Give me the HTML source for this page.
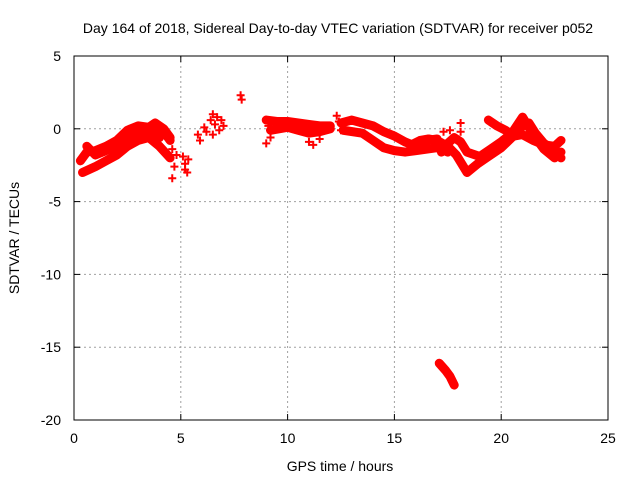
<!DOCTYPE html>
<html><head><meta charset="utf-8"><style>
body{margin:0;background:#fff}
svg text{font-family:"Liberation Sans",sans-serif;font-size:14px;fill:#000}
</style></head><body>
<svg id="c" width="640" height="480">
<text x="338" y="33" text-anchor="middle">Day 164 of 2018, Sidereal Day-to-day VTEC variation (SDTVAR) for receiver p052</text>
<text x="340" y="471" text-anchor="middle">GPS time / hours</text>
<text transform="translate(19,238) rotate(-90)" text-anchor="middle">SDTVAR / TECUs</text>
<g id="grid"></g><g id="ticks"></g><g id="marks"></g>
<rect x="74" y="56" width="534" height="364" fill="none" stroke="#000" stroke-width="1"/>
</svg>
<script>
const xTicks=[0,5,10,15,20,25];
const yTicks=[5,0,-5,-10,-15,-20];
const trackA=[[0.3,-2.2],[0.6,-1.6],[1,-1.5],[1.5,-1.2],[2,-0.8],[2.5,-0.1],[3,0.2],[3.5,0.1],[3.8,0.4],[4.2,0],[4.5,-0.6]];
const trackB=[[0.4,-3],[1,-2.6],[1.5,-2.2],[2,-1.8],[2.5,-1.2],[3,-0.8],[3.5,-0.6],[4,-1.2],[4.5,-2]];
const trackC=[[0.6,-1.2],[1,-1.8],[1.5,-1.5],[2,-1.2],[2.5,-0.6],[3,-0.3],[3.5,-0.4],[4,-0.6]];
const trackC2=[[3,0.1],[3.5,-0.1],[4.2,-0.2],[4.5,-0.8]];
const trackD=[[9,0.6],[9.5,0.5],[10,0.5],[10.5,0.4],[11,0.3],[11.5,0.2],[12,0.2]];
const trackE=[[9.2,-0.1],[10,0.1],[10.5,-0.1],[11,-0.3],[11.5,-0.2],[12,0]];
const trackF=[[12.5,0.4],[13,0.6],[13.5,0.4],[14,0.2],[14.5,-0.2],[15,-0.5],[15.5,-0.9],[16,-1.2],[16.5,-0.8],[17,-0.7]];
const trackG=[[12.6,-0.1],[13.5,-0.3],[14,-0.8],[14.5,-1.3],[15,-1.5],[15.5,-1.6],[16,-1.5],[16.5,-1.4],[17,-1.3],[17.5,-1.6]];
const trackH=[[15.8,-1.1],[16.2,-0.8],[16.6,-0.7],[17,-0.8],[17.5,-1.2],[17.9,-1.8],[18.4,-3],[18.9,-2.4],[19.3,-2],[20,-1.3],[20.5,-0.6],[21,0.2],[21.3,0.4],[21.6,-0.3],[22,-1],[22.5,-1.5],[22.8,-2]];
const trackI=[[17.2,-1.6],[17.5,-1],[17.8,-0.6],[18.1,-0.9],[18.4,-1.6],[19,-1.9],[19.5,-1.4],[20,-0.9],[20.5,-0.3],[21,0.8],[21.5,-0.4],[22,-1.4],[22.5,-2],[22.8,-1.6]];
const trackJ=[[19.4,0.6],[19.8,0.2],[20.2,-0.1],[20.6,-0.5],[21,-0.4],[21.5,-0.8],[22,-1.1],[22.5,-1.2],[22.8,-0.8]];
const trackK=[[17.1,-16.1],[17.4,-16.6],[17.6,-17],[17.8,-17.6]];
const scatter=[[4.6,-1.4],[4.7,-2.6],[4.6,-3.4],[4.8,-1.8],[5.1,-1.9],[5.2,-2.4],[5.3,-3],[5.2,-2.8],[5.35,-2.1],[5.8,-0.4],[5.9,-0.8],[6.1,0.1],[6.2,-0.2],[6.4,0.6],[6.5,1],[6.6,0.3],[6.5,-0.4],[6.7,0.8],[6.9,0.6],[6.8,-0.1],[7,0.2],[7.8,2.3],[7.85,2],[9,-1],[9.2,-0.6],[9.1,0.2],[11,-0.9],[11.2,-1.1],[11.5,-0.7],[12.3,0.9],[12.4,0.5],[12.5,-0.1],[18.1,0.4],[18.1,-0.2],[18.1,-1],[17.3,-0.2],[17.6,-0.1]];
const X=v=>74+v*534/25, Y=v=>56+(5-v)*364/25;
const NS="http://www.w3.org/2000/svg";
const g=document.getElementById('grid'),tk=document.getElementById('ticks'),mk=document.getElementById('marks');
function el(p,t,a){const e=document.createElementNS(NS,t);for(const k in a)e.setAttribute(k,a[k]);p.appendChild(e);return e;}
xTicks.forEach(t=>{const x=X(t);
 if(t>0&&t<25){const l=el(g,'line',{x1:x,x2:x,y1:56,y2:420,stroke:'#a0a0a0','stroke-dasharray':'2,3'});
 
 }
 el(tk,'line',{x1:x,x2:x,y1:420,y2:414,stroke:'#000'});el(tk,'line',{x1:x,x2:x,y1:56,y2:62,stroke:'#000'});
 const s=el(tk,'text',{x:x,y:443,'text-anchor':'middle'});s.textContent=t;
 
 });
yTicks.forEach(t=>{const y=Y(t);
 if(t<5&&t>-20){const l=el(g,'line',{x1:74,x2:608,y1:y,y2:y,stroke:'#a0a0a0','stroke-dasharray':'2,3'});
 
 }
 el(tk,'line',{x1:74,x2:80,y1:y,y2:y,stroke:'#000'});el(tk,'line',{x1:602,x2:608,y1:y,y2:y,stroke:'#000'});
 const s=el(tk,'text',{x:61,y:y+5,'text-anchor':'end'});s.textContent=t;
 
 });
function plus(x,y){const p=el(mk,'path',{d:`M${x-4} ${y}H${x+4}M${x} ${y-4}V${y+4}`,stroke:'#f00','stroke-width':2});
 
 }
[trackA,trackB,trackC,trackC2,trackD,trackE,trackF,trackG,trackH,trackI,trackJ,trackK].forEach(tr=>{
 const pl=el(mk,'polyline',{points:tr.map(p=>X(p[0])+','+Y(p[1])).join(' '),fill:'none',stroke:'#f00','stroke-width':9,'stroke-linejoin':'round','stroke-linecap':'round'});
 
 
 tr.forEach(p=>plus(X(p[0]),Y(p[1])));});
scatter.forEach(p=>plus(X(p[0]),Y(p[1])));
</script>
</body></html>
